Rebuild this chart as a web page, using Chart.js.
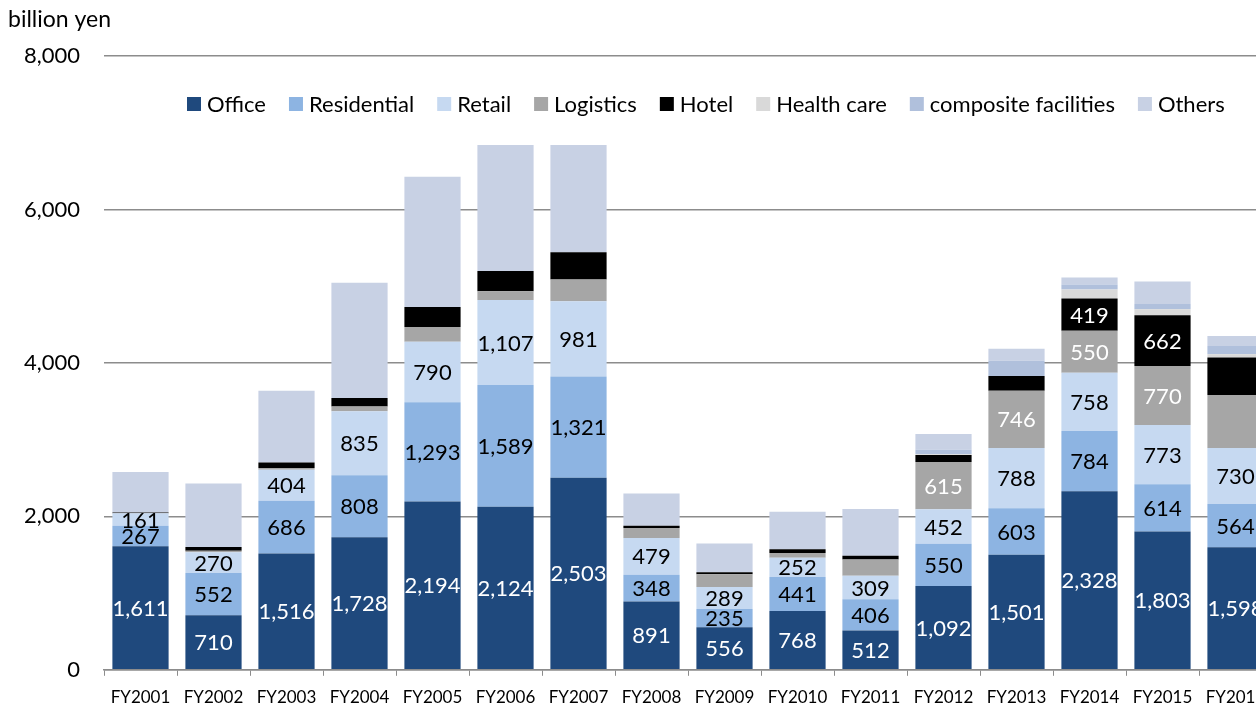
<!DOCTYPE html>
<html lang="en">
<head>
  <meta charset="UTF-8" />
  <title>Real estate acquisitions by asset type</title>
  <script src="https://cdn.jsdelivr.net/npm/chart.js"></script>
  <style>
    html, body {
      margin: 0;
      padding: 0;
      background: #fff;
      overflow: hidden;
    }
    .wrap {
      width: 1272px;
      height: 707px;
    }
  </style>
</head>
<body>
  <div class="wrap"><canvas id="chart"></canvas></div>

  <script>
    // fiscal years on the x axis (last one is cut off by the page edge)
    const categories = ['FY2001', 'FY2002', 'FY2003', 'FY2004', 'FY2005', 'FY2006', 'FY2007', 'FY2008',
                        'FY2009', 'FY2010', 'FY2011', 'FY2012', 'FY2013', 'FY2014', 'FY2015', 'FY2016'];

    // billion yen
    const office      = [1611, 710, 1516, 1728, 2194, 2124, 2503, 891, 556, 768, 512, 1092, 1501, 2328, 1803, 1598];
    const residential = [267, 552, 686, 808, 1293, 1589, 1321, 348, 235, 441, 406, 550, 603, 784, 614, 564];
    const retail      = [161, 270, 404, 835, 790, 1107, 981, 479, 289, 252, 309, 452, 788, 758, 773, 730];
    const logistics   = [0, 20, 25, 60, 190, 113, 281, 130, 165, 61, 212, 615, 746, 550, 770, 688];
    const hotel       = [10, 50, 70, 110, 260, 264, 355, 30, 26, 48, 48, 90, 190, 419, 662, 489];
    const healthCare  = [0, 0, 0, 0, 0, 0, 0, 0, 0, 0, 0, 10, 0, 117, 78, 43];
    const composite   = [0, 0, 0, 0, 0, 0, 0, 0, 0, 0, 0, 60, 200, 65, 69, 108];
    const others      = [530, 825, 935, 1503, 1698, 1643, 1399, 421, 374, 491, 608, 204, 156, 92, 292, 130];

    const yTicks = [0, 2000, 4000, 6000, 8000];

    // only these years carry a number on the logistics / hotel segments
    const logisticsLabelYears = ['FY2012', 'FY2013', 'FY2014', 'FY2015'];
    const hotelLabelYears = ['FY2014', 'FY2015'];

    const FONT = "Lato, 'Open Sans', sans-serif";

    const segmentLabels = {
      id: 'segmentLabels',
      afterDatasetsDraw(chart) {
        const ctx = chart.ctx;
        ctx.save();
        ctx.font = '22px ' + FONT;
        ctx.textAlign = 'center';
        ctx.textBaseline = 'middle';
        chart.data.datasets.forEach((ds, di) => {
          if (!ds.labelColor) return;
          chart.getDatasetMeta(di).data.forEach((bar, i) => {
            if (ds.labelYears && !ds.labelYears.includes(categories[i])) return;
            ctx.fillStyle = ds.labelColor;
            ctx.fillText(ds.data[i].toLocaleString('en-US'), bar.x, (bar.y + bar.base) / 2 + 1);
          });
        });
        ctx.restore();
      }
    };

    // legend sits inside the plot, under the top gridline
    const insideLegend = {
      id: 'insideLegend',
      afterDraw(chart) {
        const ctx = chart.ctx;
        ctx.save();
        ctx.font = '22px ' + FONT;
        ctx.textBaseline = 'middle';
        const y = chart.chartArea.top + 48;
        let x = 187;
        chart.data.datasets.forEach(ds => {
          ctx.fillStyle = ds.backgroundColor;
          ctx.fillRect(x, y - 7, 14, 14);
          x += 20;
          ctx.fillStyle = '#000';
          ctx.fillText(ds.label, x, y + 1);
          x += ctx.measureText(ds.label).width + 23;
        });
        // unit in the top left corner
        ctx.font = '23px ' + FONT;
        ctx.fillText('billion yen', 8, 20);
        ctx.restore();
      }
    };

    new Chart(document.getElementById('chart'), {
      type: 'bar',
      data: {
        labels: categories,
        datasets: [
          { label: 'Office', data: office, backgroundColor: '#1f497d', labelColor: '#fff' },
          { label: 'Residential', data: residential, backgroundColor: '#8db4e2', labelColor: '#000' },
          { label: 'Retail', data: retail, backgroundColor: '#c6d9f1', labelColor: '#000' },
          { label: 'Logistics', data: logistics, backgroundColor: '#a6a6a6', labelColor: '#fff', labelYears: logisticsLabelYears },
          { label: 'Hotel', data: hotel, backgroundColor: '#000000', labelColor: '#fff', labelYears: hotelLabelYears },
          { label: 'Health care', data: healthCare, backgroundColor: '#d9d9d9' },
          { label: 'composite facilities', data: composite, backgroundColor: '#b0c0dc' },
          { label: 'Others', data: others, backgroundColor: '#c8d1e4' }
        ]
      },
      options: {
        responsive: true,
        maintainAspectRatio: false,
        animation: false,
        layout: { padding: { top: 56, left: 0, right: 0, bottom: 0 } },
        datasets: {
          bar: { categoryPercentage: 0.77, barPercentage: 1, borderWidth: 0 }
        },
        scales: {
          x: {
            stacked: true,
            grid: { display: true, drawOnChartArea: false, drawTicks: true, tickLength: 6, color: '#8c8c8c' },
            border: { display: true, color: '#8c8c8c', width: 1.5 },
            ticks: { color: '#000', font: { family: FONT, size: 17 }, padding: 12, maxRotation: 0, autoSkip: false },
            afterFit: scale => {
              scale.height = 35;
              // no extra side room for the end labels, the last one runs off the page
              scale.paddingLeft = 0;
              scale.paddingRight = 0;
            }
          },
          y: {
            stacked: true,
            min: 0,
            max: 8000,
            afterBuildTicks: scale => { scale.ticks = yTicks.map(v => ({ value: v })); },
            grid: { color: '#8c8c8c', lineWidth: 1.5, drawTicks: false },
            border: { display: false },
            ticks: {
              color: '#000',
              font: { family: FONT, size: 22 },
              padding: 24,
              callback: v => v.toLocaleString('en-US')
            },
            afterFit: scale => { scale.width = 104; }
          }
        },
        plugins: {
          legend: { display: false },
          tooltip: { enabled: false }
        }
      },
      plugins: [segmentLabels, insideLegend]
    });
  </script>
</body>
</html>
